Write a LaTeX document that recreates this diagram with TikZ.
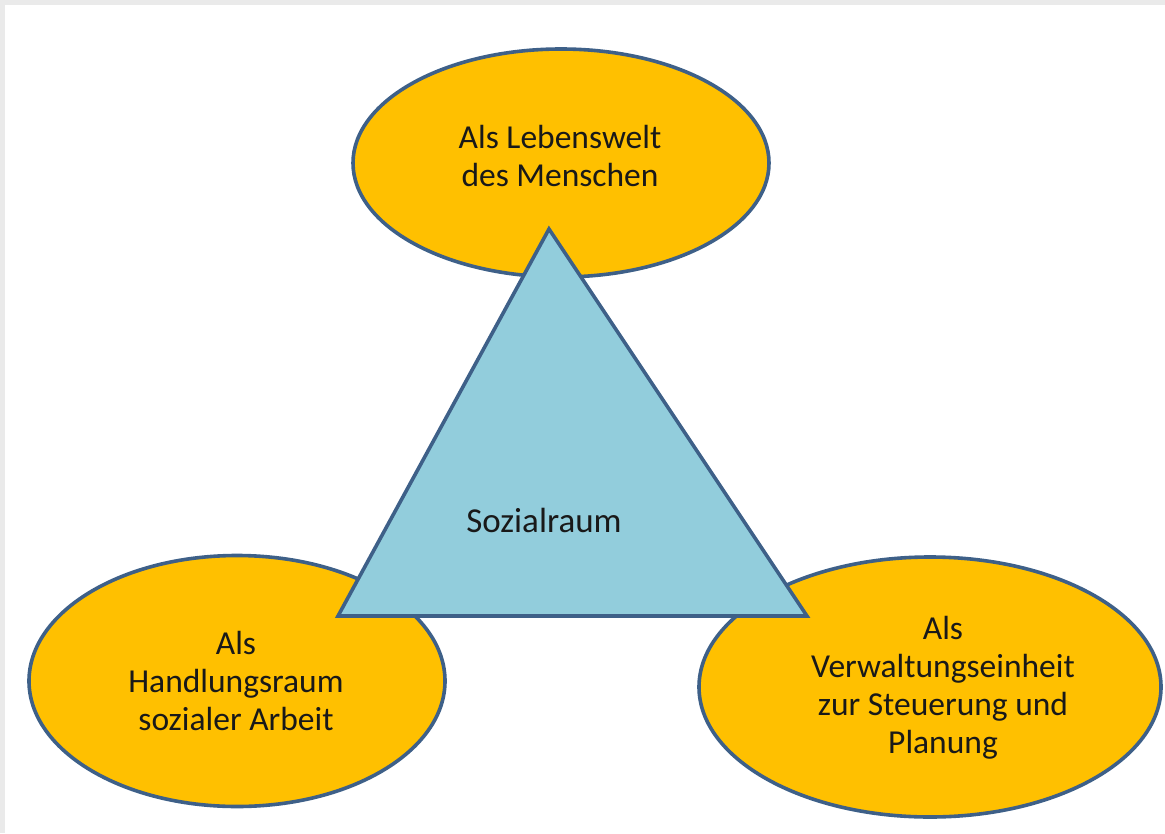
\documentclass[tikz,border=0pt]{standalone}
\usepackage{fontspec}
\setmainfont{Carlito}
\usetikzlibrary{shapes.geometric}
\definecolor{ellfill}{HTML}{FFC000}
\definecolor{trifill}{HTML}{92CDDC}
\definecolor{outl}{HTML}{3E6088}
\definecolor{frame}{HTML}{EAEAEA}
\begin{document}
\begin{tikzpicture}[x={(1pt,0)},y={(0,-1pt)},
  oval/.style={ellipse,draw=outl,fill=ellfill,line width=3.6pt,inner sep=0pt},
  lbl/.style={align=center,font=\fontsize{33.5}{38}\selectfont,text=black!90,inner sep=0pt}]
\fill[frame] (0,0) rectangle (1165,833);
\fill[white] (5,5) rectangle (1165,833);
\useasboundingbox (0,0) rectangle (1165,833);
\node[oval,minimum width=416pt,minimum height=228pt] (top) at (561,163) {};
\node[oval,minimum width=416pt,minimum height=251pt] (left) at (237,681) {};
\node[oval,minimum width=462pt,minimum height=260pt] (right) at (930,687) {};
\coordinate (apex) at (549,229);
\coordinate (bl) at (338,616);
\coordinate (br) at (807,616);
\draw[outl,fill=trifill,line width=3.6pt,line join=miter] (apex) -- (bl) -- (br) -- cycle;
\node[lbl] (ttop) at (560,156) {Als Lebenswelt\\des Menschen};
\node[lbl] (tleft) at (236,681) {Als\\Handlungsraum\\sozialer Arbeit};
\node[lbl] (tright) at (943,688) {Als\\Verwaltungseinheit\\zur Steuerung und\\Planung};
\node[lbl,font=\fontsize{35}{38}\selectfont] (tmid) at (544,520) {Sozialraum};
\end{tikzpicture}
\end{document}
